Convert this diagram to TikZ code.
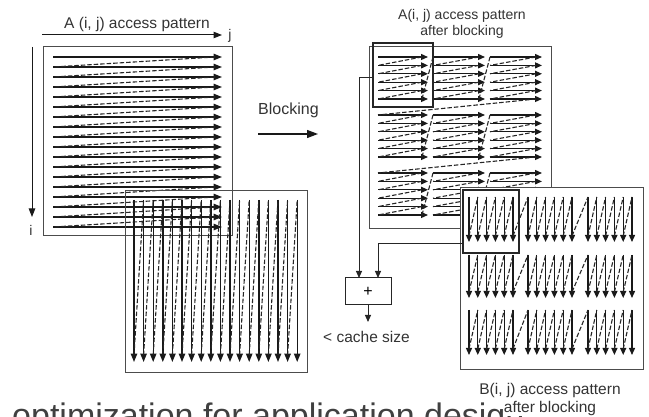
\documentclass[tikz,border=0pt]{standalone}
\usepackage{fontspec}
\setmainfont{Liberation Sans}
\usetikzlibrary{arrows.meta}
\newcommand{\fs}[1]{\fontsize{#1}{#1}\selectfont}
\begin{document}
\begin{tikzpicture}[x=1pt,y=-1pt,
  frame/.style={draw=black!70, line width=1pt, inner sep=0pt, outer sep=0pt},
  hilite/.style={draw=black!85, line width=2pt, inner sep=0pt, outer sep=0pt},
  run/.style={draw=black!90, line width=1.4pt, -{Triangle[length=8.5pt,width=6.5pt]}},
  runS/.style={draw=black!90, line width=1.3pt, -{Triangle[length=7pt,width=6pt]}},
  back/.style={draw=black!85, line width=1.1pt, dash pattern=on 4.5pt off 2pt},
  conn/.style={draw=black!85, line width=1pt, -{Triangle[length=7pt,width=6pt]}},
  lbl/.style={text=black!80, inner sep=0pt, anchor=base}]
\useasboundingbox (0,0) rectangle (649,417);

% ---------- original row-major traversal of A ----------
\node[frame, minimum width=189pt, minimum height=189pt, anchor=north west] (Abox) at (43,47) {};
\foreach \k in {0,...,17}{
  \pgfmathsetmacro\yy{57+10*\k}
  \draw[run] (53,\yy) -- (222,\yy);
}
\foreach \k in {0,...,16}{
  \pgfmathsetmacro\yy{57+10*\k}
  \pgfmathsetmacro\yn{67+10*\k}
  \draw[back] (215,\yy) -- (53,\yn);
}
% ---------- original column-major traversal of B ----------
\node[frame, minimum width=182pt, minimum height=181pt, anchor=north west] (Bbox) at (125,191) {};
\foreach \k in {0,...,17}{
  \pgfmathsetmacro\xx{134+9.6*\k}
  \draw[run] (\xx,200) -- (\xx,362);
}
\foreach \k in {0,...,16}{
  \pgfmathsetmacro\xx{134+9.6*\k}
  \pgfmathsetmacro\xn{143.6+9.6*\k}
  \draw[back] (\xx,355) -- (\xn,200);
}
% index axes
\coordinate (jfrom) at (42,35);
\coordinate (jto) at (222,35);
\coordinate (ifrom) at (32,47);
\coordinate (ito) at (32,217);
\draw[run, line width=1pt] (jfrom) -- (jto);
\draw[run, line width=1pt] (ifrom) -- (ito);
\node[lbl, font=\fs{15.5}] (titleA) at (137,29) {A (i, j) access pattern};
\node[lbl, font=\fs{14}] (jlab) at (230,40) {j};
\node[lbl, font=\fs{14}] (ilab) at (31,236) {i};

% ---------- transformation ----------
\node[lbl, anchor=base west, font=\fs{16}] (blk) at (258,115) {Blocking};
\coordinate (bfrom) at (258,134);
\coordinate (bto) at (318,134);
\draw[run, line width=1.2pt, -{Triangle[length=11pt,width=8pt]}] (bfrom) -- (bto);

% ---------- blocked traversal of A ----------
\node[frame, minimum width=182pt, minimum height=182pt, anchor=north west] (Abl) at (369,47) {};
\foreach \ys in {57,115,173}{
  \foreach \xs/\xe in {378/428,433/485,490/542}{
    \foreach \k in {0,...,5}{
      \draw[runS] (\xs,\ys+8.4*\k) -- (\xe,\ys+8.4*\k);
    }
    \foreach \k in {0,...,4}{
      \draw[back] (\xe-6,\ys+8.4*\k) -- (\xs,\ys+8.4*\k+8.4);
    }
  }
  \draw[back] (422,\ys+42) -- (433,\ys);
  \draw[back] (479,\ys+42) -- (490,\ys);
}
\draw[back] (536,99) -- (378,115);
\draw[back] (536,157) -- (378,173);
\node[hilite, minimum width=60pt, minimum height=64pt, anchor=north west] (hlA) at (373,43) {};
\node[lbl, font=\fs{14}] (titleAb) at (462,20) {A(i, j) access pattern};
\node[lbl, font=\fs{14}] (titleAb2) at (462,36) {after blocking};

% ---------- blocked traversal of B ----------
\node[frame, fill=white, minimum width=183pt, minimum height=181pt, anchor=north west] (Bbl) at (460,188) {};
\foreach \ys/\ye in {197/242,255/298,310/355}{
  \foreach \xs in {469,528,588}{
    \foreach \k in {0,...,5}{
      \draw[runS] (\xs+8.8*\k,\ys) -- (\xs+8.8*\k,\ye);
    }
    \foreach \k in {0,...,4}{
      \draw[back] (\xs+8.8*\k,\ye-6) -- (\xs+8.8*\k+8.8,\ys);
    }
  }
  \draw[back] (513,\ye-6) -- (528,\ys);
  \draw[back] (572,\ye-6) -- (588,\ys);
}
\node[hilite, minimum width=56pt, minimum height=63pt, anchor=north west] (hlB) at (463,190) {};

% ---------- heading of the following slide text ----------
\begin{scope}
  \clip (0,0) rectangle (649,417);
  \node[lbl, anchor=base west, text=black!75, font=\fs{34}] (footer) at (12,427) {optimization for application design};
\end{scope}

\node[lbl, font=\fs{15.5}] (titleBb) at (550,394) {B(i, j) access pattern};
\node[lbl, font=\fs{15.5}, fill=white, inner ysep=1pt, inner xsep=1pt] (titleBb2) at (550,412) {after blocking};

% ---------- combined tile footprint ----------
\node[frame, draw=black!85, minimum width=46pt, minimum height=27pt, font=\fs{16}] (plus) at (368,291.5) {+};
\draw[conn] ([yshift=-3pt]hlA.west) -| ([xshift=-9pt]plus.north);
\draw[conn] ([yshift=9pt]hlB.south west) -| ([xshift=10pt]plus.north);
\coordinate (limit) at (368,322);
\draw[conn] (plus.south) -- (limit);
\node[lbl, anchor=base west, font=\fs{15.5}] (cache) at (323,343) {< cache size};
\end{tikzpicture}
\end{document}
